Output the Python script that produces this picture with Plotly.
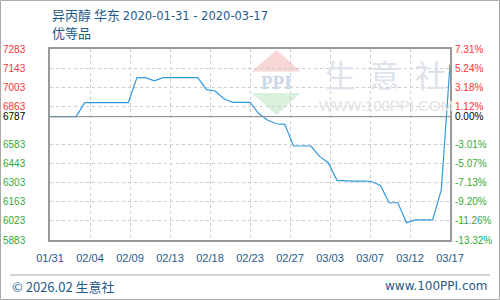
import plotly.graph_objects as go
import pandas as pd

# ---------------- data ----------------
dates = [
    "2020-01-31", "2020-02-01", "2020-02-02", "2020-02-03", "2020-02-04", "2020-02-05",
    "2020-02-06", "2020-02-07", "2020-02-08", "2020-02-09", "2020-02-10", "2020-02-11",
    "2020-02-12", "2020-02-13", "2020-02-14", "2020-02-15", "2020-02-16", "2020-02-17",
    "2020-02-18", "2020-02-19", "2020-02-20", "2020-02-21", "2020-02-22", "2020-02-23",
    "2020-02-24", "2020-02-25", "2020-02-26", "2020-02-27", "2020-02-28", "2020-02-29",
    "2020-03-01", "2020-03-02", "2020-03-03", "2020-03-04", "2020-03-05", "2020-03-06",
    "2020-03-07", "2020-03-08", "2020-03-09", "2020-03-10", "2020-03-11", "2020-03-12",
    "2020-03-13", "2020-03-14", "2020-03-15", "2020-03-16", "2020-03-17",
]
prices = [
    6787, 6787, 6787, 6787, 6890, 6890,
    6890, 6890, 6890, 6890, 7073, 7073,
    7050, 7073, 7073, 7073, 7073, 7073,
    6985, 6975, 6918, 6892, 6892, 6892,
    6810, 6762, 6735, 6731, 6572, 6572,
    6572, 6496, 6450, 6320, 6315, 6315,
    6315, 6312, 6283, 6156, 6156, 6010,
    6030, 6030, 6030, 6250, 7170,
]
base_price = 6787
y_ticks = [7283, 7143, 7003, 6863, 6787, 6583, 6443, 6303, 6163, 6023, 5883]
pct_labels = ["7.31%", "5.24%", "3.18%", "1.12%", "0.00%", "-3.01%",
              "-5.07%", "-7.13%", "-9.20%", "-11.26%", "-13.32%"]
x_labels = ["01/31", "02/04", "02/09", "02/13", "02/18", "02/23",
            "02/27", "03/03", "03/07", "03/12", "03/17"]

title_cn = "异丙醇 华东"
title_dates = "2020-01-31 - 2020-03-17"
subtitle_text = "优等品"
footer_left = "© 2026.02 生意社"
footer_right = "www.100PPI.com"

# ---------------- style ----------------
RED = "#ff3333"
GREEN = "#33aa33"
BLACK = "#000000"
BLUE_TXT = "#1e5a8c"
LINE = "#3399dd"
FRAME = "#999999"
GRID = "#cccccc"
NUMFONT = "Liberation Sans"
CJK = "Noto Sans CJK SC"

W, H = 500, 300
ML, MR, MT, MB = 50, 50, 49, 60
PW, PH = W - ML - MR, H - MT - MB


def px(x):
    return (x - ML) / PW


def py(y):
    return (H - MB - y) / PH


def col(v):
    if v > base_price:
        return RED
    if v < base_price:
        return GREEN
    return BLACK


left_text = [f"<span style='color:{col(v)}'>{v}</span>" for v in y_ticks]
right_text = [f"<span style='color:{col(v)}'>{t}</span>" for v, t in zip(y_ticks, pct_labels)]

start = pd.Timestamp(dates[0])
end = pd.Timestamp(dates[-1])
span_days = (end - start).days
n = len(x_labels) - 1
x_tickvals = [start + pd.Timedelta(days=span_days * k / n) for k in range(n + 1)]

fig = go.Figure()
fig.add_trace(go.Scatter(
    x=dates, y=prices, mode="lines",
    line=dict(color=LINE, width=1.2), hoverinfo="skip", showlegend=False,
))
fig.add_trace(go.Scatter(
    x=dates, y=prices, mode="lines", yaxis="y2",
    line=dict(color="rgba(0,0,0,0)", width=0), hoverinfo="skip", showlegend=False,
))

yrange = [y_ticks[-1], y_ticks[0]]

fig.update_layout(
    width=W, height=H, autosize=False,
    margin=dict(l=ML, r=MR, t=MT, b=MB, pad=0, autoexpand=False),
    paper_bgcolor="white", plot_bgcolor="white",
    xaxis=dict(
        type="date", range=[start, end], automargin=False,
        tickmode="array", tickvals=x_tickvals, ticktext=x_labels,
        showgrid=True, gridcolor=GRID, griddash="3px,3px", gridwidth=1,
        showline=True, linecolor=FRAME, linewidth=1.5, mirror=True,
        ticks="", ticklabelstandoff=7,
        tickfont=dict(family=NUMFONT, size=11, color=BLUE_TXT),
        zeroline=False,
    ),
    yaxis=dict(
        range=yrange, automargin=False,
        tickmode="array", tickvals=y_ticks, ticktext=left_text,
        showgrid=True, gridcolor=GRID, griddash="3px,3px", gridwidth=1,
        showline=True, linecolor=FRAME, linewidth=1.5, mirror=True,
        ticks="", ticklabelstandoff=21,
        tickfont=dict(family=NUMFONT, size=10, color=BLACK),
        zeroline=False,
    ),
    yaxis2=dict(
        range=yrange, overlaying="y", side="right", automargin=False,
        tickmode="array", tickvals=y_ticks, ticktext=right_text,
        showgrid=False, showline=False, ticks="", ticklabelstandoff=4,
        tickfont=dict(family=NUMFONT, size=10, color=BLACK),
        zeroline=False,
    ),
)

shapes = []
# baseline
shapes.append(dict(type="line", xref="paper", yref="y", x0=0, x1=1,
                   y0=base_price, y1=base_price, line=dict(color="#888888", width=1)))
# watermark logo
shapes.append(dict(type="path", xref="paper", yref="paper", layer="below",
                   path=f"M {px(251.7)},{py(71.5)} L {px(276.7)},{py(50)} L {px(300.5)},{py(71.5)} Z",
                   fillcolor="#f7d6d6", line=dict(width=0)))
shapes.append(dict(type="path", xref="paper", yref="paper", layer="below",
                   path=f"M {px(251.7)},{py(93)} L {px(300.5)},{py(93)} L {px(276.7)},{py(115)} Z",
                   fillcolor="#d8f0dc", line=dict(width=0)))
# footer separator
shapes.append(dict(type="line", xref="paper", yref="paper",
                   x0=px(10), x1=px(490), y0=py(275), y1=py(275),
                   line=dict(color="#aaaaaa", width=1)))
# outer frame
shapes.append(dict(type="rect", xref="paper", yref="paper",
                   x0=px(0.5), x1=px(499.5), y0=py(299.5), y1=py(0.5),
                   line=dict(color="#aaaaaa", width=1)))
fig.update_layout(shapes=shapes)

ann = []
title_html = (f"<span style='font-family:{CJK};font-size:13px'>{title_cn} </span>"
              f"<span style='font-family:DejaVu Sans;font-size:11.5px'>{title_dates}</span>")
ann.append(dict(xref="paper", yref="paper", x=px(50), y=py(15), xanchor="left", yanchor="middle",
                text=title_html, showarrow=False, font=dict(family=CJK, size=13, color=BLUE_TXT)))
ann.append(dict(xref="paper", yref="paper", x=px(50), y=py(33), xanchor="left", yanchor="middle",
                text=subtitle_text, showarrow=False, font=dict(family=CJK, size=13, color=BLUE_TXT)))
ann.append(dict(xref="paper", yref="paper", x=px(10), y=py(286), xanchor="left", yanchor="middle",
                text=footer_left, showarrow=False, font=dict(family=CJK, size=13, color=BLUE_TXT)))
ann.append(dict(xref="paper", yref="paper", x=px(490), y=py(286), xanchor="right", yanchor="middle",
                text=footer_right, showarrow=False, font=dict(family="DejaVu Sans", size=12, color=BLUE_TXT)))
# watermark texts
ann.append(dict(xref="paper", yref="paper", x=px(276.5), y=py(82), xanchor="center", yanchor="middle",
                text="<b>PPI</b>", showarrow=False,
                font=dict(family="Liberation Serif", size=19, color="#cdd6e8")))
for ch, cx in zip("生意社", [340.7, 384.0, 430.7]):
    ann.append(dict(xref="paper", yref="paper", x=px(cx), y=py(73), xanchor="center", yanchor="middle",
                    text=ch, showarrow=False, font=dict(family=CJK, size=31, color="#dde2ec")))
ann.append(dict(xref="paper", yref="paper", x=px(386), y=py(105), xanchor="center", yanchor="middle",
                text="WWW.100PPI.COM", showarrow=False,
                font=dict(family="Liberation Sans", size=15, color="#e2e2e2")))
fig.update_layout(annotations=ann)

fig.write_html("out.html")
